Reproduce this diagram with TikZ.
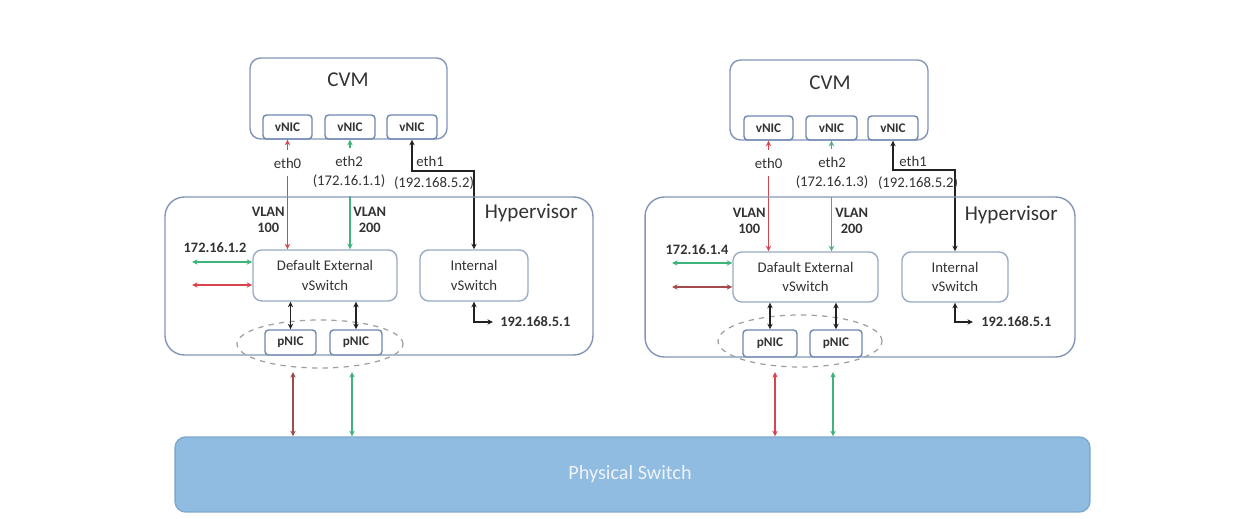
\documentclass[tikz,border=0pt]{standalone}
\usepackage{fontspec}
\setmainfont{Carlito}
\usetikzlibrary{arrows.meta,shapes.geometric,calc}
\definecolor{boxc}{HTML}{8496B8}
\definecolor{nicc}{HTML}{6F87B3}
\definecolor{swc}{HTML}{98ABC4}
\definecolor{redc}{HTML}{D7444E}
\definecolor{dkredc}{HTML}{A34B4B}
\definecolor{grnc}{HTML}{3DB57A}
\definecolor{blkc}{HTML}{222222}
\definecolor{physfill}{HTML}{8FBCE0}
\definecolor{physdraw}{HTML}{7EA9CF}
\definecolor{phystxt}{HTML}{EEF3F8}
\definecolor{txtc}{HTML}{333333}
\begin{document}
\begin{tikzpicture}[x=0.02cm,y=-0.02cm,
  >={Stealth[length=3.2pt,width=3pt]},
  cvmbox/.style={draw=boxc,line width=0.8pt,rounded corners=6pt,inner sep=0pt},
  hypbox/.style={draw=boxc,line width=0.8pt,rounded corners=11pt,inner sep=0pt},
  nicbox/.style={draw=nicc,line width=0.8pt,rounded corners=2pt,inner sep=0pt,
     minimum height=0.48cm,text=txtc,font=\bfseries\fontsize{7.5}{8}\selectfont},
  swbox/.style={draw=swc,line width=0.8pt,rounded corners=5pt,inner sep=0pt,
     minimum height=1.02cm,align=center,text=txtc,font=\fontsize{8.4}{11}\selectfont},
  bigtxt/.style={inner sep=0pt,text=txtc,font=\fontsize{12}{14}\selectfont},
  lbl/.style={inner sep=0pt,text=txtc,font=\bfseries\fontsize{8.2}{9.4}\selectfont,align=center},
  ethlbl/.style={inner xsep=0pt,inner ysep=4.5pt,fill=white,text=txtc,
     font=\fontsize{8.4}{10.8}\selectfont,align=center},
  ethplain/.style={inner sep=0pt,text=txtc,font=\fontsize{8.4}{10.8}\selectfont},
  redl/.style={draw=redc,line width=0.9pt,<->},
  dkredl/.style={draw=dkredc,line width=0.9pt,<->},
  grnl/.style={draw=grnc,line width=0.9pt,<->},
  blkl/.style={draw=blkc,line width=0.9pt,<->},
  bond/.style={draw=gray!75,dashed,line width=0.7pt,ellipse,inner sep=0pt}
]
\useasboundingbox[fill=white] (0,0) rectangle (1252,519);

% ---------------- physical switch ----------------
\node[draw=physdraw,fill=physfill,line width=0.8pt,rounded corners=6pt,
      minimum width=18.3cm,minimum height=1.5cm,inner sep=0pt] (phys) at (632.5,474.5) {};
\node[inner sep=0pt,text=phystxt,font=\fontsize{11.5}{13}\selectfont] (physt) at (630,474) {Physical Switch};

% ================= LEFT HOST (inner boxes) =================
\node[cvmbox,minimum width=3.94cm,minimum height=1.62cm] (Lcvm) at (348.5,98.5) {};
\node[bigtxt] (Lcvmt) at (348,80) {CVM};
\node[nicbox,minimum width=0.98cm] (Lv1) at (287.5,127) {vNIC};
\node[nicbox,minimum width=1.0cm] (Lv2) at (350,127) {vNIC};
\node[nicbox,minimum width=1.0cm] (Lv3) at (412,127) {vNIC};
\node[swbox,minimum width=2.88cm] (Lext) at (325,275.5) {Default External\\vSwitch};
\node[swbox,minimum width=2.16cm] (Lint) at (474,275.5) {Internal\\vSwitch};
\node[nicbox,minimum width=1.02cm,minimum height=0.5cm] (Lp1) at (290.5,342.5) {pNIC};
\node[nicbox,minimum width=1.04cm,minimum height=0.5cm] (Lp2) at (356,342.5) {pNIC};

\draw[redl] (Lv1.south) -- (Lv1.south |- Lext.north);
\draw[grnl] (Lv2.south) -- (Lv2.south |- Lext.north);
\coordinate (Lbend) at (412,171);
\draw[blkl] (Lv3.south) -- (Lbend) -| (Lint.north);
\node[ethlbl] (Leth0) at (287.5,163) {eth0};
\node[ethlbl] (Leth2) at (349,172) {eth2\\(172.16.1.1)};
\node[ethplain] (Leth1) at (430,161) {eth1};
\node[ethplain] (Leth1ip) at (434,183) {(192.168.5.2)};

\node[hypbox,minimum width=8.56cm,minimum height=3.16cm] (Lhyp) at (379,276) {};
\node[bigtxt,anchor=east] (Lhypt) at (578,213) {Hypervisor};
\node[bond,minimum width=3.32cm,minimum height=0.96cm] (Lbond) at (320,344) {};
\node[lbl,anchor=east] (Lvl1) at (285,220) {VLAN\\100};
\node[lbl,anchor=west] (Lvl2) at (353,220) {VLAN\\200};

\coordinate (Lg) at (192,262);
\coordinate (Lr) at (192,285);
\draw[grnl] (Lg) -- (Lg -| Lext.west);
\draw[redl] (Lr) -- (Lr -| Lext.west);
\node[lbl] (Lip) at (215,248) {172.16.1.2};

\draw[blkl] (Lp1.north |- Lext.south) -- (Lp1.north);
\draw[blkl] (Lp2.north |- Lext.south) -- (Lp2.north);

\coordinate (Lt) at (493,322);
\draw[blkl] (Lint.south) |- (Lt);
\node[lbl,anchor=west] (Lip51) at (500,322) {192.168.5.1};

\coordinate (Lu1) at (293,372);
\coordinate (Lu2) at (352,372);
\draw[dkredl] (Lu1) -- (Lu1 |- phys.north);
\draw[grnl] (Lu2) -- (Lu2 |- phys.north);

% ================= RIGHT HOST =================
\node[cvmbox,minimum width=3.96cm,minimum height=1.6cm] (Rcvm) at (829,100) {};
\node[bigtxt] (Rcvmt) at (830,83) {CVM};
\node[nicbox,minimum width=0.98cm] (Rv1) at (768.5,128) {vNIC};
\node[nicbox,minimum width=1.02cm] (Rv2) at (831.5,128) {vNIC};
\node[nicbox,minimum width=1.0cm] (Rv3) at (893,128) {vNIC};
\node[swbox,minimum width=2.9cm,minimum height=1.0cm] (Rext) at (805.5,277) {Dafault External\\vSwitch};
\node[swbox,minimum width=2.12cm,minimum height=1.0cm] (Rint) at (955,277) {Internal\\vSwitch};
\node[nicbox,minimum width=1.08cm,minimum height=0.54cm] (Rp1) at (770,343.5) {pNIC};
\node[nicbox,minimum width=1.04cm,minimum height=0.54cm] (Rp2) at (836,343.5) {pNIC};

\draw[redl] (Rv1.south) -- (Rv1.south |- Rext.north);
\draw[grnl] (Rv2.south) -- (Rv2.south |- Rext.north);
\coordinate (Rbend) at (893,170);
\draw[blkl] (Rv3.south) -- (Rbend) -| (Rint.north);
\node[ethlbl] (Reth0) at (768.5,163) {eth0};
\node[ethlbl] (Reth2) at (832,173) {eth2\\(172.16.1.3)};
\node[ethplain] (Reth1) at (913,161) {eth1};
\node[ethplain] (Reth1ip) at (918,183) {(192.168.5.2)};

\node[hypbox,minimum width=8.6cm,minimum height=3.2cm] (Rhyp) at (860,277) {};
\node[bigtxt,anchor=east] (Rhypt) at (1058,215) {Hypervisor};
\node[bond,minimum width=3.28cm,minimum height=1.04cm] (Rbond) at (800,341) {};
\node[lbl,anchor=east] (Rvl1) at (766,221) {VLAN\\100};
\node[lbl,anchor=west] (Rvl2) at (835,221) {VLAN\\200};

\coordinate (Rg) at (672,263);
\coordinate (Rr) at (672,287);
\draw[grnl] (Rg) -- (Rg -| Rext.west);
\draw[dkredl] (Rr) -- (Rr -| Rext.west);
\node[lbl] (Rip) at (697,250) {172.16.1.4};

\draw[blkl] (Rp1.north |- Rext.south) -- (Rp1.north);
\draw[blkl] (Rp2.north |- Rext.south) -- (Rp2.north);

\coordinate (Rt) at (973,322);
\draw[blkl] (Rint.south) |- (Rt);
\node[lbl,anchor=west] (Rip51) at (981,322) {192.168.5.1};

\coordinate (Ru1) at (775,372);
\coordinate (Ru2) at (833,372);
\draw[redl] (Ru1) -- (Ru1 |- phys.north);
\draw[grnl] (Ru2) -- (Ru2 |- phys.north);
\end{tikzpicture}
\end{document}
